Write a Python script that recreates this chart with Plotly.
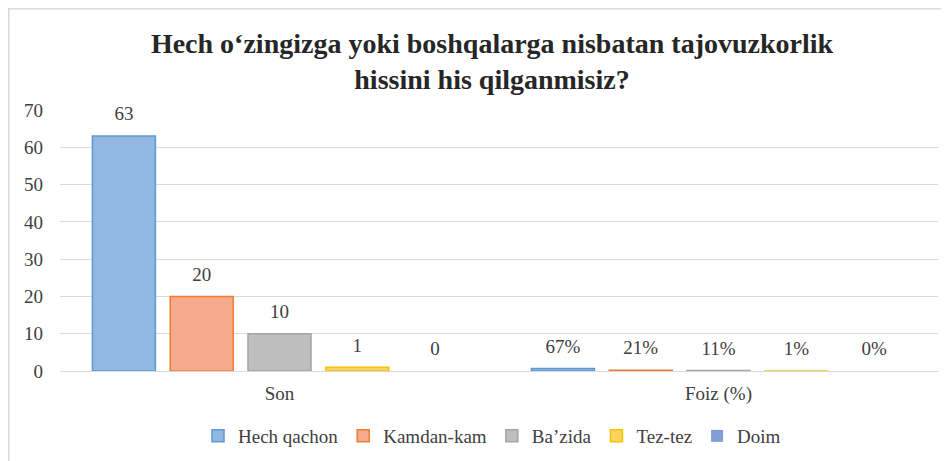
import plotly.graph_objects as go

# categories and series
categories = ["Son", "Foiz (%)"]
series_names = ["Hech qachon", "Kamdan-kam", "Ba’zida", "Tez-tez", "Doim"]
son_counts = [63, 20, 10, 1, 0]
foiz_shares = [0.67, 0.21, 0.11, 0.01, 0.0]

fills = ["#92B8E2", "#F5AA8B", "#BEBEBE", "#FFD45C", "#7F9ED6"]
borders = ["#5B9BD5", "#ED7D31", "#A5A5A5", "#FFC000", "#4472C4"]

FONT = "Liberation Serif"
TEXT = "#404040"

# the page body has an 8px default margin, so the figure is 8px smaller
W, H = 941, 453
L, R, T, B = 52, 11, 102, 90
PW, PH = W - L - R, H - T - B

fig = go.Figure()
for i, (name, son, foiz, fill, border) in enumerate(
    zip(series_names, son_counts, foiz_shares, fills, borders)
):
    values = [son, foiz]
    fig.add_trace(
        go.Bar(
            x=categories,
            y=values,
            name=name,
            offsetgroup=str(i),
            marker=dict(
                color=fill,
                line=dict(color=border, width=[1.5 if v > 0 else 0 for v in values]),
            ),
            hoverinfo="name+y",
        )
    )
    # data labels sit a little above the bars, like Excel's
    fig.add_trace(
        go.Scatter(
            x=categories,
            y=values,
            offsetgroup=str(i),
            mode="markers+text",
            marker=dict(size=16, color="rgba(0,0,0,0)"),
            text=[f"{son}", f"{foiz:.0%}"],
            textposition="top center",
            textfont=dict(family=FONT, size=19, color=TEXT),
            showlegend=False,
            hoverinfo="skip",
            cliponaxis=False,
        )
    )

fig.update_layout(
    width=W,
    height=H,
    paper_bgcolor="white",
    plot_bgcolor="white",
    margin=dict(l=L, r=R, t=T, b=B),
    barmode="group",
    scattermode="group",
    bargap=0.114,
    bargroupgap=0.19,
    font=dict(family=FONT, size=19, color=TEXT),
    title=dict(
        text="<b>Hech o‘zingizga yoki boshqalarga nisbatan tajovuzkorlik<br>hissini his qilganmisiz?</b>",
        x=484 / W,
        xanchor="center",
        y=1 - 45 / H,
        yanchor="middle",
        font=dict(family=FONT, size=28, color="#262626"),
    ),
    legend=dict(
        orientation="h",
        xref="container",
        yref="container",
        x=484 / W,
        xanchor="center",
        y=(H - 428) / H,
        yanchor="middle",
        font=dict(family=FONT, size=19, color=TEXT),
        itemwidth=30,
        traceorder="normal",
    ),
    showlegend=True,
    shapes=[
        dict(
            type="rect",
            xref="paper",
            yref="paper",
            x0=(0.75 - L) / PW,
            x1=1.2,
            y0=-0.6,
            y1=1 + (T - 0.75) / PH,
            line=dict(color="#D9D9D9", width=1.5),
            layer="below",
        )
    ],
)
fig.update_yaxes(
    range=[0, 70],
    dtick=10,
    showgrid=True,
    gridcolor="#D9D9D9",
    gridwidth=1,
    zeroline=False,
    showline=False,
    automargin=False,
    tickfont=dict(family=FONT, size=19, color=TEXT),
    ticklabelstandoff=16,
)
fig.update_xaxes(
    showline=True,
    linecolor="#D9D9D9",
    linewidth=1,
    automargin=False,
    tickfont=dict(family=FONT, size=19, color=TEXT),
    ticks="",
    ticklabelstandoff=5,
)

fig.write_html("out.html")
